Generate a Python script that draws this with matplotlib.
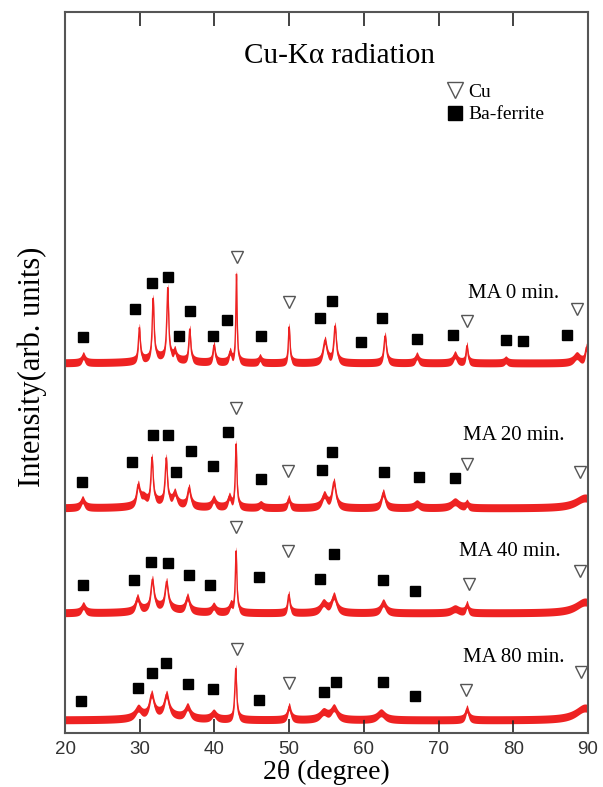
#!/usr/bin/env python3

# imports
import numpy as np
import matplotlib
matplotlib.use('Agg')
import matplotlib.pyplot as plt
from matplotlib.lines import Line2D


# the four milling times, top to bottom
labels = ['MA 0 min.', 'MA 20 min.', 'MA 40 min.', 'MA 80 min.']
offsets = [370, 225, 120, 13]   # baseline of each trace (arb. units)

# peaks: (2theta, height above baseline, fwhm)
peaks_0 = [(22.45, 7, 0.5), (29.95, 33, 0.3), (31.8, 60, 0.3), (33.75, 70, 0.3),
           (34.7, 8, 0.4), (36.7, 32, 0.3), (39.95, 17, 0.35), (42.1, 10, 0.4),
           (42.95, 88, 0.2), (46.1, 5, 0.4), (50.0, 36, 0.25), (54.8, 22, 0.6),
           (56.15, 36, 0.4), (62.85, 27, 0.4), (67.1, 7, 0.5), (72.2, 8, 0.6),
           (73.8, 17, 0.3), (79.0, 3, 0.5), (88.5, 7, 1.0), (89.8, 15, 0.4),
           (33.0, 5, 5.0)]
peaks_20 = [(22.35, 8, 0.6), (29.8, 19, 0.5), (30.5, 7, 1.0), (31.65, 45, 0.35),
            (33.55, 44, 0.35), (34.7, 11, 0.6), (36.6, 18, 0.5), (39.9, 8, 0.6),
            (42.0, 10, 0.5), (42.9, 63, 0.25), (46.2, 3, 0.6), (49.95, 9, 0.4),
            (54.7, 12, 0.8), (56.0, 25, 0.6), (62.6, 15, 0.6), (67.1, 4, 0.8),
            (72.2, 6, 1.2), (73.8, 4, 0.4), (89.6, 10, 3.0), (33.0, 5, 5.0)]
peaks_40 = [(22.45, 7, 0.6), (29.7, 13, 0.6), (31.7, 29, 0.5), (33.6, 26, 0.5),
            (36.4, 14, 0.6), (39.9, 6, 0.6), (42.2, 7, 0.5), (42.9, 61, 0.25),
            (49.95, 18, 0.35), (54.6, 9, 1.0), (56.0, 16, 0.8), (62.6, 10, 0.8),
            (72.2, 4, 1.2), (73.8, 8, 0.4), (89.6, 11, 3.0), (33.0, 5, 5.0)]
peaks_80 = [(29.8, 9, 1.0), (31.6, 21, 0.7), (33.6, 20, 0.7), (36.4, 11, 0.8),
            (39.9, 6, 0.8), (42.85, 51, 0.3), (50.0, 13, 0.5), (54.6, 7, 1.2),
            (56.0, 11, 1.0), (62.3, 7, 1.2), (73.8, 11, 0.5), (89.6, 12, 3.0),
            (33.0, 5, 5.0)]
all_peaks = [peaks_0, peaks_20, peaks_40, peaks_80]

# Ba-ferrite (square) marks: 2theta and height
ferrite_x = [
    [22.45, 29.4, 31.65, 33.75, 35.25, 36.7, 39.8, 41.65, 46.2, 54.1, 55.7, 59.6, 62.4, 67.15, 71.95, 79.0, 81.3, 87.15],
    [22.3, 29.0, 31.8, 33.75, 34.9, 36.9, 39.8, 41.8, 46.2, 54.45, 55.7, 62.75, 67.4, 72.2],
    [22.45, 29.2, 31.45, 33.75, 36.55, 39.35, 46.0, 54.1, 56.0, 62.6, 66.9],
    [22.1, 29.8, 31.65, 33.55, 36.4, 39.8, 46.0, 54.7, 56.25, 62.6, 66.9],
]
ferrite_y = [
    [396, 424, 450, 456, 397, 422, 397, 413, 397, 415, 432, 391, 415, 394, 398, 393, 392, 398],
    [251, 271, 298, 298, 261, 282, 267, 301, 254, 263, 281, 261, 256, 255],
    [148, 153, 171, 170, 158, 148, 156, 154, 179, 153, 142],
    [32, 45, 60, 70, 49, 44, 33, 41, 51, 51, 37],
]
# Cu (open triangle) marks
cu_x = [
    [43.0, 49.95, 73.8, 88.5],
    [42.85, 49.9, 73.8, 88.9],
    [42.85, 49.9, 74.05, 88.9],
    [43.0, 50.0, 73.7, 89.1],
]
cu_y = [
    [476, 431, 412, 424],
    [325, 262, 269, 261],
    [206, 182, 149, 162],
    [84, 50, 43, 61],
]
label_x = [73.9, 73.3, 72.75, 73.3]
label_y = [440, 297, 181, 76]


# build each trace from its peak list
two_theta = np.linspace(20, 90, 3500)

def profile(peaks):
    y = np.zeros_like(two_theta)
    for pos, h, w in peaks:
        g = (w / 2) ** 2
        y += h * g / ((two_theta - pos) ** 2 + g)
    return y


plt.rcParams['font.family'] = ['Liberation Serif', 'DejaVu Serif']
fig = plt.figure(figsize=(6.03, 7.87), dpi=100)
ax = fig.add_axes([65 / 603, 54 / 787, 523 / 603, 721 / 787])

red = '#ee2222'
for i in range(4):
    y = profile(all_peaks[i]) + offsets[i]
    ax.fill_between(two_theta, y - 4, y + 4, color=red, lw=0)
    ax.plot(two_theta, y, color=red, lw=1.0)
    ax.plot(ferrite_x[i], ferrite_y[i], 's', color='black', ms=7, ls='none')
    ax.plot(cu_x[i], cu_y[i], 'v', mfc='white', mec='#555555', mew=1.0, ms=8, ls='none')
    ax.text(label_x[i], label_y[i], labels[i], fontsize=15, va='center', ha='left')

ax.text(56.7, 677, 'Cu-K\u03b1 radiation', fontsize=21, ha='center', va='center')

handles = [Line2D([], [], marker='v', mfc='white', mec='#555555', mew=1.0, ms=11, ls='none'),
           Line2D([], [], marker='s', color='black', ms=10, ls='none')]
ax.legend(handles, ['Cu', 'Ba-ferrite'], loc='upper left', bbox_to_anchor=(0.705, 0.92),
          frameon=False, fontsize=14, handlelength=0.8, handletextpad=0.3,
          labelspacing=0.25, borderpad=0.2)

ax.set_xlim(20, 90)
ax.set_ylim(0, 721)
ax.set_xticks(range(20, 91, 10))
ax.set_yticks([])
ax.tick_params(axis='x', direction='in', length=10, width=1.2, top=True, color='#222222',
               labelsize=13.5, labelcolor='#333333', pad=6)
for lab in ax.get_xticklabels():
    lab.set_family(['Liberation Sans', 'DejaVu Sans'])
for s in ax.spines.values():
    s.set_color('#555555')
    s.set_linewidth(1.5)

ax.set_xlabel('2\u03b8 (degree)', fontsize=20, labelpad=1)
ax.set_ylabel('Intensity(arb. units)', fontsize=22)
ax.yaxis.set_label_coords(-0.034, 0.508)

plt.savefig('out.png')
